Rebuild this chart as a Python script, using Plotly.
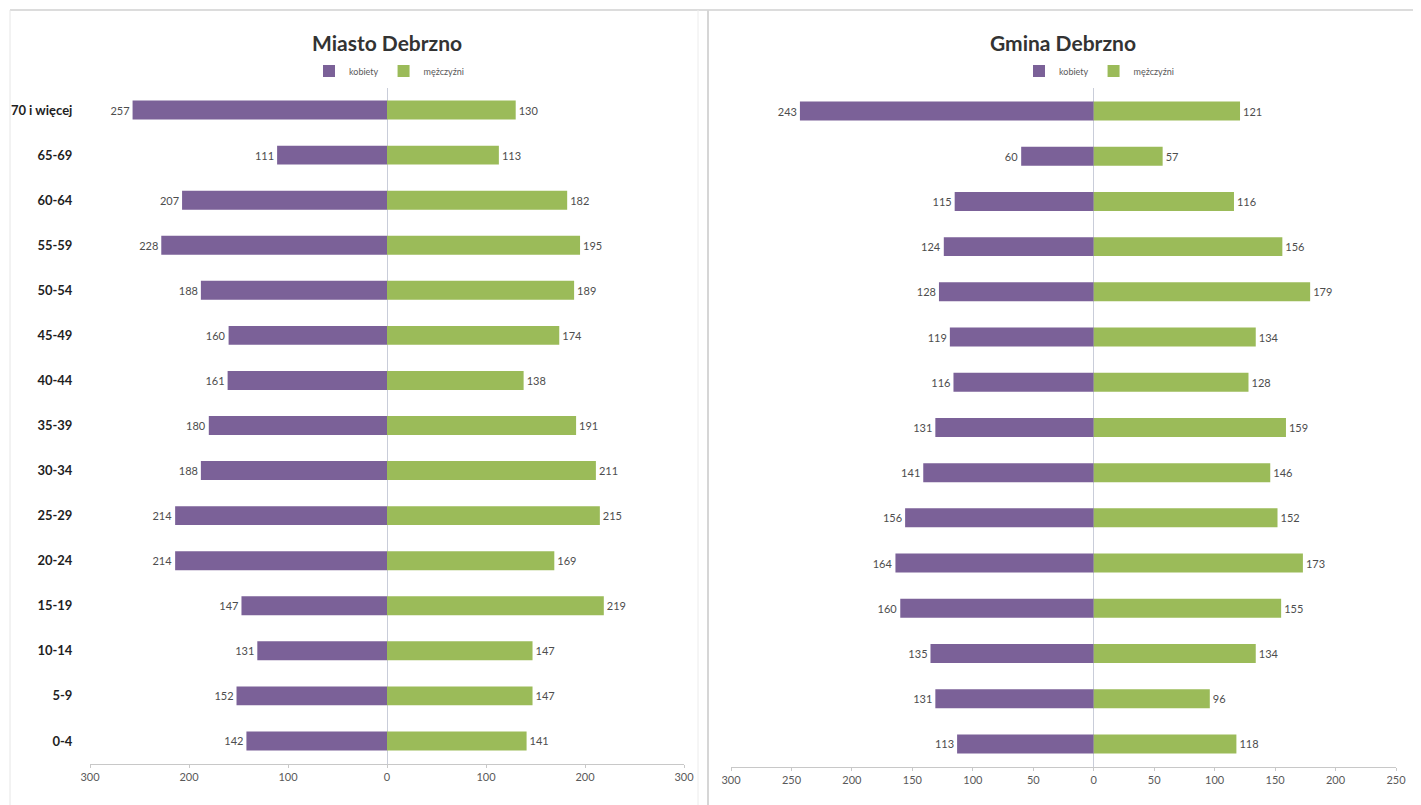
import plotly.graph_objects as go

# page has an 8px body margin; figure is sized so that it fills the 1421x805 window
OFF = 8
W, H = 1421 - OFF, 805 - OFF

age_groups = ["70 i więcej", "65-69", "60-64", "55-59", "50-54", "45-49", "40-44",
              "35-39", "30-34", "25-29", "20-24", "15-19", "10-14", "5-9", "0-4"]

miasto_kobiety = [257, 111, 207, 228, 188, 160, 161, 180, 188, 214, 214, 147, 131, 152, 142]
miasto_mezczyzni = [130, 113, 182, 195, 189, 174, 138, 191, 211, 215, 169, 219, 147, 147, 141]

gmina_kobiety = [243, 60, 115, 124, 128, 119, 116, 131, 141, 156, 164, 160, 135, 131, 113]
gmina_mezczyzni = [121, 57, 116, 156, 179, 134, 128, 159, 146, 152, 173, 155, 134, 96, 118]

left_ticks = [-300, -200, -100, 0, 100, 200, 300]
right_ticks = [-300, -250, -200, -150, -100, -50, 0, 50, 100, 150, 200, 250]

titles = ["Miasto Debrzno", "Gmina Debrzno"]
series_names = ["kobiety", "mężczyźni"]

PURPLE = "#7b6198"
GREEN = "#9bbb59"
FONT = "Liberation Sans Narrow, Lato, sans-serif"


def px_x(p):
    return (p - OFF) / W


def px_y(p):
    return 1 - (p - OFF) / H


fig = go.Figure()

panels = [
    (miasto_kobiety, miasto_mezczyzni, "x", "y", "legend"),
    (gmina_kobiety, gmina_mezczyzni, "x2", "y2", "legend2"),
]
for kob, mez, xa, ya, lg in panels:
    fig.add_trace(go.Bar(
        y=age_groups, x=[-v for v in kob], orientation="h", name=series_names[0],
        marker=dict(color=PURPLE, line=dict(width=0)), width=0.42,
        text=[str(v) for v in kob], textposition="outside", cliponaxis=False,
        textfont=dict(family=FONT, size=11, color="#4d4d4d"),
        xaxis=xa, yaxis=ya, legend=lg, hoverinfo="y+text"))
    fig.add_trace(go.Bar(
        y=age_groups, x=mez, orientation="h", name=series_names[1],
        marker=dict(color=GREEN, line=dict(width=0)), width=0.42,
        text=[str(v) for v in mez], textposition="outside", cliponaxis=False,
        textfont=dict(family=FONT, size=11, color="#4d4d4d"),
        xaxis=xa, yaxis=ya, legend=lg, hoverinfo="y+text"))

xcommon = dict(showgrid=False, zeroline=True, zerolinecolor="#c9cdd9", zerolinewidth=1,
               showline=True, linecolor="#c8c8c8", linewidth=1,
               ticks="outside", ticklen=3, tickcolor="#c8c8c8", automargin=False,
               tickfont=dict(family=FONT, size=11, color="#595959"), fixedrange=True)

legend_common = dict(orientation="h", xanchor="center", yanchor="middle",
                     font=dict(family=FONT, size=9, color="#595959"),
                     itemwidth=30, tracegroupgap=0, bgcolor="rgba(0,0,0,0)")

fig.update_layout(
    width=W, height=H,
    autosize=False,
    margin=dict(l=0, r=0, t=0, b=0, pad=0),
    paper_bgcolor="white", plot_bgcolor="white",
    barmode="relative",
    showlegend=True,
    xaxis=dict(domain=[px_x(90), px_x(684)], range=[-300, 300],
               tickvals=left_ticks, ticktext=[str(abs(t)) for t in left_ticks],
               anchor="y", **xcommon),
    yaxis=dict(domain=[px_y(763.5), px_y(87.5)], autorange="reversed",
               showgrid=False, showline=False, zeroline=False, automargin=False,
               ticks="outside", ticklen=14, tickcolor="rgba(0,0,0,0)",
               tickfont=dict(family=FONT, size=13, color="#1f1f1f", weight="bold"),
               anchor="x", fixedrange=True),
    xaxis2=dict(domain=[px_x(731), px_x(1396)], range=[-300, 250],
                tickvals=right_ticks, ticktext=[str(abs(t)) for t in right_ticks],
                anchor="y2", **xcommon),
    yaxis2=dict(domain=[px_y(766.5), px_y(88.4)], autorange="reversed",
                showgrid=False, showline=False, zeroline=False, automargin=False,
                showticklabels=False, anchor="x2", fixedrange=True),
    legend=dict(x=px_x(389), y=px_y(71), **legend_common),
    legend2=dict(x=px_x(1099), y=px_y(71), **legend_common),
    annotations=[
        dict(text=titles[0], x=px_x(387), y=px_y(42), xref="paper", yref="paper",
             showarrow=False, xanchor="center", yanchor="middle",
             font=dict(family=FONT, size=21, color="#333333", weight="bold")),
        dict(text=titles[1], x=px_x(1063), y=px_y(43), xref="paper", yref="paper",
             showarrow=False, xanchor="center", yanchor="middle",
             font=dict(family=FONT, size=21, color="#333333", weight="bold")),
    ],
    shapes=[
        dict(type="line", xref="paper", yref="paper", x0=px_x(10), x1=1, y0=px_y(10), y1=px_y(10),
             line=dict(color="#dcdcdc", width=2)),
        dict(type="line", xref="paper", yref="paper", x0=px_x(10), x1=px_x(10), y0=0, y1=px_y(10),
             line=dict(color="#e6e6e6", width=1)),
        dict(type="line", xref="paper", yref="paper", x0=px_x(698), x1=px_x(698), y0=0, y1=px_y(10),
             line=dict(color="#ececec", width=1)),
        dict(type="line", xref="paper", yref="paper", x0=px_x(708), x1=px_x(708), y0=0, y1=px_y(10),
             line=dict(color="#d6d6d6", width=2)),
    ],
)

fig.write_html("out.html")
